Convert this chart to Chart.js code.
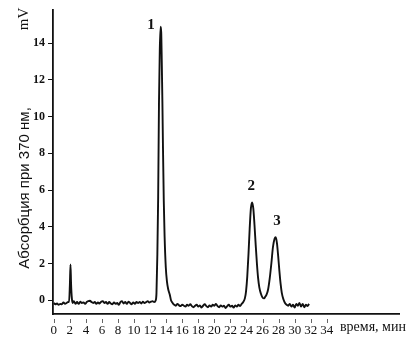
<!DOCTYPE html>
<html>
<head>
<meta charset="utf-8">
<script src="https://cdn.jsdelivr.net/npm/chart.js@4.4.1/dist/chart.umd.min.js"></script>
<style>
  html, body { margin: 0; padding: 0; background: #fff; }
  #wrap { width: 414px; height: 339px; }
</style>
</head>
<body>
<div id="wrap"><canvas id="chrom" width="414" height="339"></canvas></div>
<script>
// Chromatogram: time (min) and absorbance (mV)
const times = [
  0, 0.2, 0.4, 0.6, 0.8, 1.0, 1.2, 1.4, 1.6, 1.8, 1.9, 2.0, 2.08, 2.15, 2.25, 2.35,
  2.5, 2.7, 2.9, 3.1, 3.3, 3.5, 3.7, 3.9, 4.1, 4.3, 4.5, 4.7, 4.9, 5.1, 5.3, 5.5,
  5.7, 5.9, 6.1, 6.3, 6.5, 6.7, 6.9, 7.1, 7.3, 7.5, 7.7, 7.9, 8.1, 8.3, 8.5, 8.7,
  8.9, 9.1, 9.3, 9.5, 9.7, 9.9, 10.1, 10.3, 10.5, 10.7, 10.9, 11.1, 11.3, 11.5, 11.7,
  11.9, 12.1, 12.3, 12.5, 12.7, 12.79, 12.9, 13.0, 13.1, 13.2, 13.3, 13.38, 13.45,
  13.53, 13.6, 13.7, 13.8, 13.95, 14.1, 14.25, 14.45, 14.6, 14.8, 15.0, 15.2, 15.4,
  15.6, 15.8, 16.0, 16.2, 16.4, 16.6, 16.8, 17.0, 17.2, 17.4, 17.6, 17.8, 18.0, 18.2,
  18.4, 18.6, 18.8, 19.0, 19.2, 19.4, 19.6, 19.8, 20.0, 20.2, 20.4, 20.6, 20.8, 21.0,
  21.2, 21.4, 21.6, 21.8, 22.0, 22.2, 22.4, 22.6, 22.8, 23.0, 23.2, 23.4, 23.6, 23.8,
  23.95, 24.1, 24.25, 24.4, 24.55, 24.7, 24.85, 25.0, 25.15, 25.3, 25.45, 25.6, 25.8,
  26.0, 26.2, 26.35, 26.5, 26.7, 26.9, 27.1, 27.3, 27.5, 27.65, 27.8, 27.95, 28.1,
  28.25, 28.4, 28.6, 28.8, 29.0, 29.2, 29.4, 29.6, 29.8, 30.0, 30.2, 30.4, 30.6, 30.8,
  31.0, 31.2, 31.4, 31.6, 31.8
];
const absorb = [
  -0.15, -0.22, -0.18, -0.25, -0.2, -0.22, -0.12, -0.2, -0.15, -0.1, -0.1, 0.8, 1.95, 0.9, 0.1, -0.15,
  -0.05, -0.2, -0.1, -0.2, -0.08, -0.15, -0.12, -0.2, -0.1, -0.05, -0.03, -0.1, -0.15, -0.1, -0.2, -0.12,
  -0.18, -0.08, -0.05, -0.15, -0.1, -0.2, -0.1, -0.18, -0.22, -0.12, -0.2, -0.15, -0.25, -0.1, -0.05, -0.18,
  -0.1, -0.2, -0.08, -0.15, -0.22, -0.12, -0.2, -0.1, -0.15, -0.1, -0.18, -0.08, -0.15, -0.1, -0.05,
  -0.12, -0.08, -0.05, -0.1, 0.0, 0.4, 2.5, 5.6, 10.7, 13.6, 14.9, 14.6, 13.0,
  10.7, 8.3, 5.4, 3.5, 1.8, 1.0, 0.6, 0.3, 0.0, -0.15, -0.25, -0.3, -0.2,
  -0.28, -0.32, -0.25, -0.3, -0.35, -0.25, -0.3, -0.22, -0.32, -0.38, -0.3, -0.25, -0.35, -0.28,
  -0.4, -0.3, -0.22, -0.32, -0.38, -0.28, -0.35, -0.25, -0.3, -0.2, -0.32, -0.38, -0.28, -0.35,
  -0.3, -0.42, -0.32, -0.25, -0.35, -0.3, -0.4, -0.28, -0.35, -0.25, -0.32, -0.2, -0.1, 0.1,
  0.5, 1.3, 2.5, 3.9, 5.0, 5.33, 5.0, 4.1, 3.0, 2.0, 1.2, 0.7, 0.35,
  0.15, 0.1, 0.2, 0.3, 0.6, 1.2, 2.0, 2.9, 3.35, 3.43, 3.1, 2.4, 1.6,
  0.9, 0.4, 0.05, -0.15, -0.25, -0.3, -0.2, -0.35, -0.25, -0.4, -0.2, -0.3, -0.15, -0.35,
  -0.2, -0.38, -0.25, -0.32, -0.2
];

const xTicks = [0, 2, 4, 6, 8, 10, 12, 14, 16, 18, 20, 22, 24, 26, 28, 30, 32, 34];
const yTicks = [0, 2, 4, 6, 8, 10, 12, 14];

// peak numbers and where they sit (data coords)
const peakNames = ['1', '2', '3'];
const peakAtX = [12.1, 24.6, 27.8];
const peakAtY = [15.0, 6.2, 4.3];

const SERIF = '"Liberation Serif", "DejaVu Serif", serif';
const SANS = '"Liberation Sans", Arial, sans-serif';

// axis captions + peak numbers; x tick marks sit a bit below the axis line in the scan
const extras = {
    id: 'extras',
    afterDraw(chart) {
        const { ctx, chartArea, scales } = chart;
        const x = scales.x, y = scales.y;
        ctx.save();
        ctx.strokeStyle = '#666';
        ctx.lineWidth = 1;
        xTicks.forEach(t => {
            const px = Math.round(x.getPixelForValue(t)) + 0.5;
            ctx.beginPath();
            ctx.moveTo(px, chartArea.bottom + 5);
            ctx.lineTo(px, chartArea.bottom + 9);
            ctx.stroke();
        });

        ctx.fillStyle = '#111';
        ctx.font = 'bold 15px ' + SERIF;
        ctx.textAlign = 'center';
        ctx.textBaseline = 'middle';
        peakNames.forEach((n, i) => {
            ctx.fillText(n, x.getPixelForValue(peakAtX[i]), y.getPixelForValue(peakAtY[i]));
        });

        ctx.font = '14px ' + SERIF;
        ctx.textAlign = 'left';
        ctx.fillText('время, мин', 340, chartArea.bottom + 13);

        // rotated y caption
        ctx.translate(25, 0);
        ctx.rotate(-Math.PI / 2);
        ctx.textAlign = 'center';
        ctx.font = '15px ' + SANS;
        ctx.fillText('Абсорбция при 370 нм,', -188, 0);
        ctx.font = '15px ' + SERIF;
        ctx.fillText('mV', -19, -1);
        ctx.restore();
    }
};

new Chart(document.getElementById('chrom'), {
    type: 'line',
    data: {
        datasets: [{
            data: times.map((t, i) => ({ x: t, y: absorb[i] })),
            borderColor: '#111',
            borderWidth: 1.9,
            pointRadius: 0,
            cubicInterpolationMode: 'monotone',
            fill: false
        }]
    },
    options: {
        responsive: false,
        devicePixelRatio: 1,
        animation: false,
        layout: { padding: { top: 5, right: 15, left: 0, bottom: 0 } },
        plugins: { legend: { display: false }, tooltip: { enabled: false } },
        scales: {
            x: {
                type: 'linear',
                min: -0.1,
                max: 43,
                afterBuildTicks: s => { s.ticks = xTicks.map(v => ({ value: v })); },
                afterFit: s => { s.height = 25; },
                grid: { drawOnChartArea: false, drawTicks: false },
                border: { color: '#111', width: 1.8 },
                ticks: {
                    color: '#111',
                    font: { family: SERIF, size: 13 },
                    padding: 9,
                    maxRotation: 0,
                    autoSkip: false
                }
            },
            y: {
                min: -0.75,
                max: 15.8,
                afterBuildTicks: s => { s.ticks = yTicks.map(v => ({ value: v })); },
                afterFit: s => { s.width = 53; },
                grid: { drawOnChartArea: false, tickLength: 5, tickColor: '#111' },
                border: { color: '#111', width: 1.8 },
                ticks: {
                    color: '#111',
                    font: { family: SERIF, size: 12, weight: 'bold' },
                    padding: 3
                }
            }
        }
    },
    plugins: [extras]
});
</script>
</body>
</html>
